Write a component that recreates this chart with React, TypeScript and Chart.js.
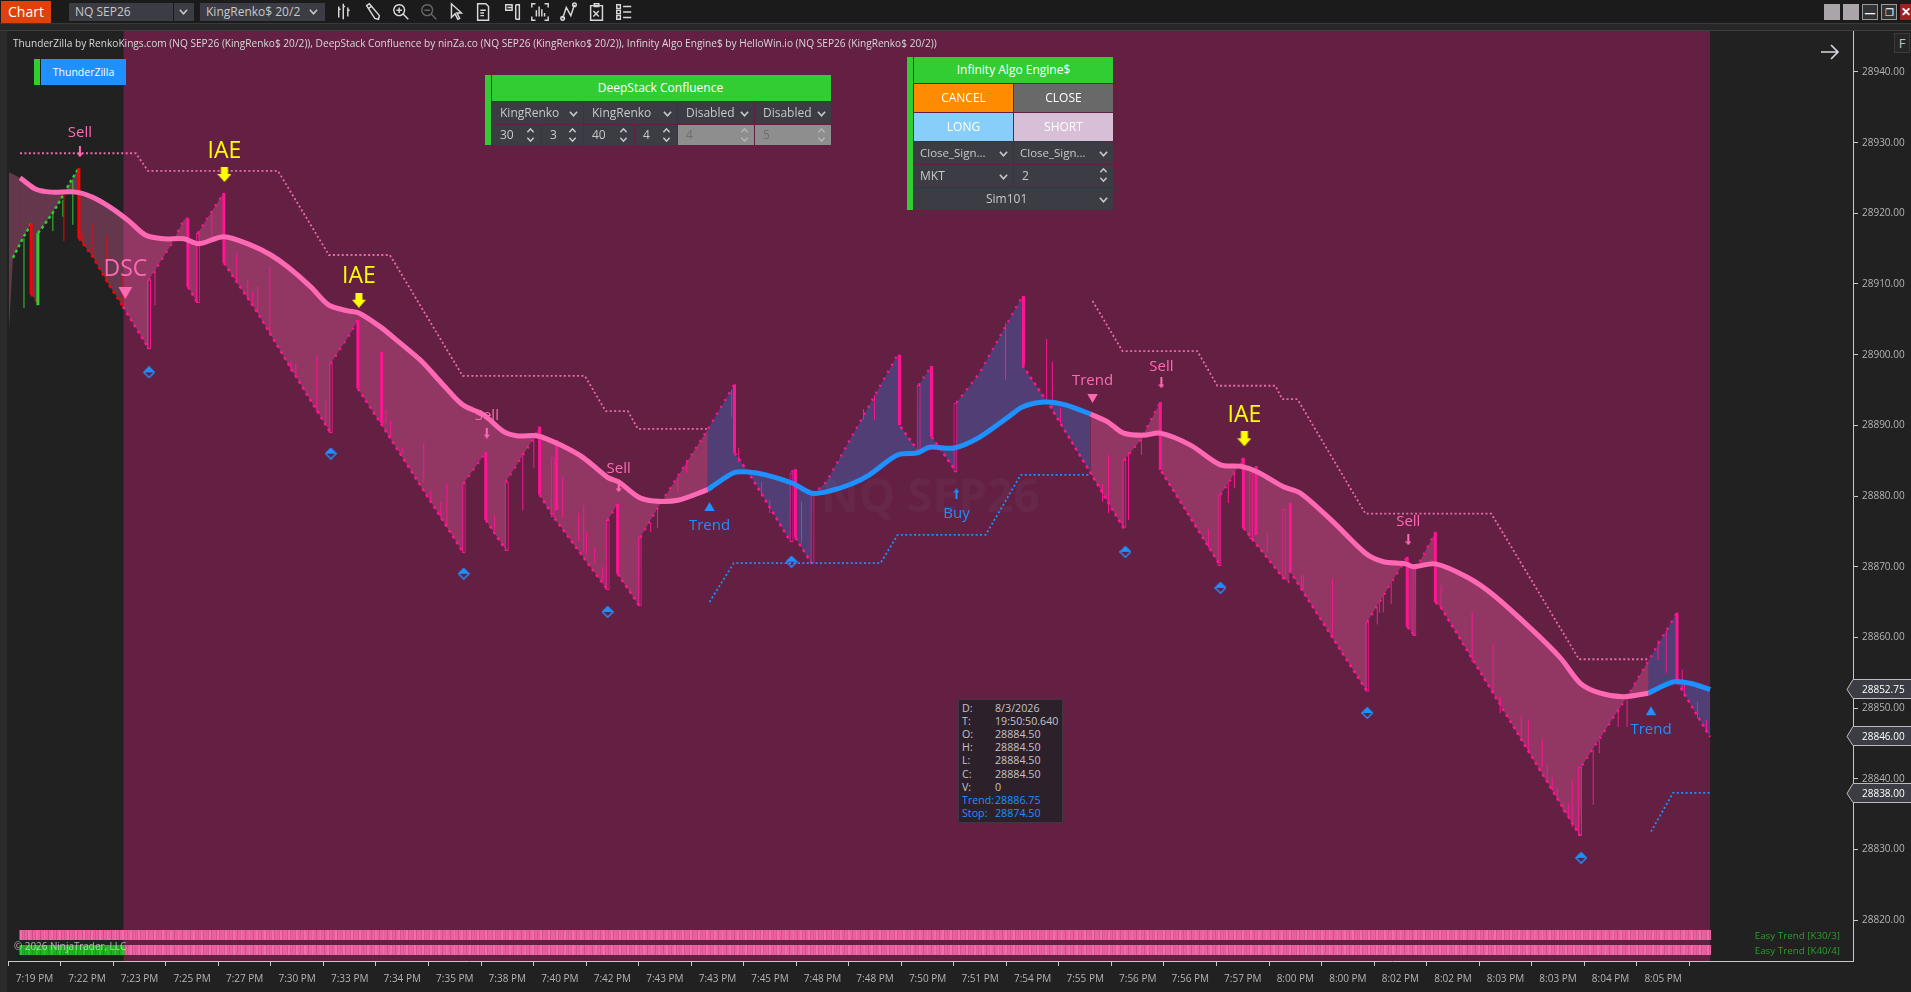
import React, { useEffect, useRef } from "react";
import { Chart, registerables } from "chart.js";

Chart.register(...registerables);

/* ---------- axis values ---------- */
const priceTicks = [28820, 28830, 28840, 28850, 28860, 28870, 28880, 28890, 28900, 28910, 28920, 28930, 28940];
const tickBars = [0, 20, 40, 60, 80, 100, 120, 140, 160, 180, 200, 220, 240, 260, 280, 300, 320, 340, 360, 380, 400, 420, 440, 460, 480, 500, 520, 540, 560, 580, 600, 620];
const tickLabels = ["7:19 PM", "7:22 PM", "7:23 PM", "7:25 PM", "7:27 PM", "7:30 PM", "7:33 PM", "7:34 PM", "7:35 PM", "7:38 PM", "7:40 PM", "7:42 PM", "7:43 PM", "7:43 PM", "7:45 PM", "7:48 PM", "7:48 PM", "7:50 PM", "7:51 PM", "7:54 PM", "7:55 PM", "7:56 PM", "7:56 PM", "7:57 PM", "8:00 PM", "8:00 PM", "8:02 PM", "8:02 PM", "8:03 PM", "8:03 PM", "8:04 PM", "8:05 PM"];
const axisRange = { xMin: -10.08, xMax: 692.3, yMin: 28814.2, yMax: 28945.8 };
const sessionStartBar = 33.9;
const lastBar = 637.9;
const priceMarkers = [28852.75, 28846.0, 28838.0];

/* ---------- trend line [bar, price] ---------- */
const trendPinkA: [number, number][] = [[-9.7, 28925.8], [-5.5, 28925.0], [0.6, 28923.4], [6.3, 28923.0], [15.8, 28923.0], [22.6, 28922.2], [30.3, 28920.5], [36, 28918.9], [42.4, 28916.9], [49.3, 28916.4], [56.9, 28916.4], [62.6, 28915.7], [72.1, 28916.7], [82.4, 28915.5], [90, 28914.1], [96.5, 28912.4], [105.2, 28909.6], [112.1, 28907.0], [119.3, 28906.2], [123.5, 28905.9], [131.8, 28903.9], [138.7, 28901.8], [147, 28899.2], [154.7, 28896.1], [163, 28892.9], [171, 28891.5], [178.6, 28889.1], [184, 28888.5], [191.6, 28888.5], [200.3, 28887.2], [209, 28885.4], [218.3, 28882.6], [222.4, 28882.0], [229.7, 28879.9], [235.8, 28879.3], [244.9, 28879.4], [256.3, 28880.9]];
const trendBlueA: [number, number][] = [[256.3, 28880.9], [266.2, 28883.3], [271.5, 28883.4], [278.4, 28883.0], [288.6, 28881.8], [295.9, 28880.4], [302.7, 28880.7], [311, 28881.7], [317.9, 28883.0], [328.5, 28885.8], [336.2, 28886.1], [340.7, 28886.9], [350.2, 28886.8], [359.7, 28888.3], [370.8, 28891.2], [376.1, 28892.6], [384.5, 28893.3], [392.5, 28892.9], [402, 28891.6]];
const trendPinkB: [number, number][] = [[402, 28891.6], [408.5, 28890.5], [414.6, 28888.9], [422.2, 28888.6], [428.7, 28888.9], [440.1, 28887.2], [451.5, 28884.4], [459.1, 28884.2], [465.6, 28883.4], [475.5, 28881.3], [482, 28880.4], [494.5, 28876.3], [506.7, 28871.9], [513.6, 28870.7], [521.9, 28870.4], [525, 28870.0], [533.4, 28870.4], [545.5, 28868.5], [555.4, 28866.0], [569.5, 28861.3], [580.9, 28857.1], [588.5, 28853.5], [596.1, 28852.1], [604.9, 28851.6], [614.4, 28852.1]];
const trendBlueB: [number, number][] = [[614.4, 28852.1], [623.9, 28853.7], [630.3, 28853.5], [637.2, 28852.7], [637.9, 28852.6]];

/* ---------- renko close path [bar, price] ---------- */
const closePath: [number, number][] = [[-9.7, 28903.5], [-8.2, 28913.7], [-4.4, 28916.5], [-1.3, 28918.5], [-1.3, 28908.6], [1, 28907.5], [1.3, 28917.2], [3.2, 28918.1], [7, 28920.1], [10.1, 28922.0], [13.9, 28924.6], [16.9, 28926.4], [16.9, 28916.5], [22.3, 28913.8], [28, 28910.1], [33.7, 28906.8], [43.6, 28900.8], [43.6, 28910.6], [51.9, 28915.5], [56.9, 28919.1], [58.4, 28919.3], [58.4, 28909.6], [62.2, 28907.3], [62.2, 28917.2], [67.2, 28920.1], [72.1, 28922.9], [72.1, 28913.0], [85, 28905.9], [98.7, 28897.4], [112.8, 28888.9], [112.8, 28898.8], [120.4, 28903.1], [123.1, 28904.9], [123.1, 28895.2], [131.8, 28890.3], [163.4, 28871.9], [163.4, 28881.8], [171.8, 28886.2], [171.8, 28876.6], [179.4, 28872.4], [179.4, 28882.0], [188.9, 28887.5], [192.3, 28889.8], [192.3, 28880.2], [197.7, 28877.0], [218.2, 28866.7], [218.2, 28876.6], [222, 28878.9], [222, 28869.0], [230.4, 28864.4], [230.7, 28874.2], [238.4, 28879.0], [256.6, 28889.6], [266.5, 28895.8], [266.5, 28886.1], [271.9, 28883.3], [287.9, 28873.5], [288.2, 28883.4], [289.7, 28883.8], [289.7, 28874.1], [295.8, 28870.5], [296.2, 28880.2], [301.5, 28882.0], [328.6, 28900.0], [329.7, 28889.8], [336.2, 28886.5], [336.6, 28895.7], [341.5, 28898.4], [341.5, 28888.4], [351, 28883.4], [351, 28893.2], [359.8, 28897.4], [376.1, 28908.3], [376.1, 28898.5], [386.8, 28892.6], [402, 28883.3], [414.9, 28875.3], [414.9, 28885.1], [421, 28887.9], [428.6, 28893.3], [429, 28883.5], [451.5, 28870.1], [451.5, 28880.2], [455.3, 28882.3], [460.2, 28885.4], [460.2, 28875.5], [463.6, 28873.9], [475.4, 28868.4], [477.7, 28867.8], [477.7, 28869.5], [507.4, 28852.3], [507.4, 28862.2], [522.6, 28871.4], [522.6, 28861.5], [525.6, 28860.2], [526, 28869.7], [533.3, 28874.9], [533.3, 28865.0], [535.5, 28864.2], [588.4, 28831.9], [589.2, 28841.9], [606.3, 28851.6], [625.3, 28863.5], [625.3, 28853.7], [637.9, 28845.9]];

/* ---------- wicks [bar, high, low] ---------- */
const thickPink: [number, number, number][] = [[58.4, 28919.3, 28909.6], [72.1, 28922.9, 28913.0], [123.1, 28904.9, 28895.2], [132.2, 28900.4, 28890.3], [171.8, 28886.2, 28876.6], [192.3, 28889.8, 28880.2], [198.8, 28887.9, 28878.0], [222, 28878.9, 28869.0], [266.5, 28895.8, 28886.1], [289.7, 28883.8, 28874.1], [329.3, 28900.0, 28890.05], [341.5, 28898.4, 28888.4], [376.5, 28908.3, 28898.5], [428.6, 28893.3, 28883.7], [460.2, 28885.4, 28875.5], [465.1, 28884.25, 28874.5], [478.1, 28879.0, 28869.5], [522.6, 28871.4, 28861.5], [533.3, 28874.9, 28865.0], [625.3, 28863.5, 28853.7]];
const hollowPink: [number, number, number][] = [[43.6, 28910.6, 28900.8], [62.2, 28917.2, 28907.3], [112.8, 28898.8, 28888.9], [163.4, 28881.8, 28871.9], [179.8, 28882.0, 28872.2], [197.3, 28885.5, 28877.0], [218.2, 28876.6, 28866.7], [230.4, 28874.2, 28864.4], [288.2, 28883.3, 28873.5], [296.2, 28880.2, 28870.5], [336.6, 28895.7, 28886.2], [350.6, 28893.2, 28883.4], [414.9, 28885.1, 28875.5], [451.1, 28880.2, 28870.1], [463.2, 28883.3, 28873.9], [475.8, 28878.2, 28868.4], [507.4, 28862.2, 28852.3], [525.3, 28869.7, 28860.2], [588.4, 28841.7, 28831.9]];
const thinPink: [number, number, number][] = [[45.9, 28912.0, 28907.0], [67.5, 28920.1, 28916.7], [77, 28914.3, 28910.3], [81.2, 28910.6, 28907.8], [83.1, 28908.9, 28907.0], [85, 28909.7, 28905.9], [89.6, 28912.5, 28902.8], [97.6, 28899.0, 28897.6], [99.5, 28898.8, 28896.8], [107.5, 28899.8, 28891.8], [110.9, 28893.7, 28890.3], [133.8, 28892.2, 28890.3], [135.6, 28890.6, 28888.4], [140.2, 28886.9, 28886.1], [148.2, 28887.5, 28881.9], [150.9, 28880.8, 28879.2], [154.7, 28879.2, 28877.0], [157, 28881.7, 28875.6], [175.2, 28877.3, 28875.2], [185.9, 28886.2, 28878.0], [190.1, 28888.4, 28884.0], [201.1, 28882.7, 28876.9], [207.2, 28877.6, 28873.5], [209.1, 28878.7, 28872.1], [210.2, 28874.9, 28871.7], [213.3, 28872.8, 28870.5], [216.3, 28870.0, 28868.1], [234.6, 28876.2, 28874.9], [237.2, 28878.0, 28875.5], [244.9, 28882.7, 28880.6], [248.3, 28885.1, 28883.3], [265.4, 28895.0, 28891.2], [268.1, 28886.8, 28884.8], [276.8, 28882.0, 28880.2], [279.9, 28879.4, 28877.6], [292, 28879.2, 28873.4], [315.6, 28892.3, 28890.8], [319.8, 28894.3, 28890.8], [369.7, 28904.5, 28896.4], [385.3, 28902.2, 28893.6], [387.5, 28899.0, 28892.5], [390.6, 28892.5, 28890.3], [406.6, 28881.7, 28879.2], [408.9, 28885.8, 28877.6], [416.5, 28886.2, 28876.6], [421.4, 28888.2, 28885.8], [446.9, 28875.3, 28872.6], [454.5, 28882.0, 28879.0], [456.8, 28883.5, 28881.1], [469.3, 28874.8, 28872.1], [482.3, 28868.8, 28867.0], [483, 28868.8, 28866.7], [494.1, 28868.3, 28859.9], [511.2, 28864.3, 28861.8], [512, 28865.0, 28863.5], [513.5, 28866.0, 28863.5], [516.5, 28867.7, 28864.7], [535.5, 28867.4, 28863.9], [547.3, 28863.5, 28856.5], [555.3, 28859.1, 28852.1], [558, 28851.6, 28849.3], [566, 28849.0, 28845.9], [568.7, 28848.3, 28843.6], [574, 28845.5, 28841.7], [575.9, 28841.9, 28839.8], [577.8, 28840.2, 28838.4], [579.7, 28838.7, 28837.3], [582, 28836.6, 28835.3], [583.9, 28836.6, 28834.5], [585.4, 28839.8, 28833.2], [593.4, 28844.1, 28836.3], [595.7, 28845.5, 28843.6], [602.9, 28850.0, 28847.3], [606.3, 28851.9, 28847.3], [618.1, 28859.6, 28856.8], [621.2, 28861.0, 28855.0], [627.3, 28855.4, 28852.6], [628.1, 28853.3, 28851.6], [633.1, 28850.9, 28848.6], [636.5, 28848.3, 28846.5]];
const thickRed: [number, number, number][] = [[16.9, 28926.4, 28916.5], [-1.3, 28918.5, 28908.6]];
const thinRed: [number, number, number][] = [[11.2, 28922.9, 28916.1], [18.5, 28917.4, 28915.5], [22.3, 28918.5, 28913.8], [27.6, 28916.8, 28910.1], [33.7, 28911.3, 28906.8]];
const thickGreen: [number, number, number][] = [[1.3, 28917.2, 28907.0]];
const thinGreen: [number, number, number][] = [[-4, 28916.5, 28906.6], [7, 28920.1, 28917.5], [10.8, 28921.9, 28919.5], [14.6, 28924.7, 28918.4]];

/* ---------- stop lines [bar, price] ---------- */
const stopPinkA: [number, number][] = [[-5.5, 28928.5], [38.6, 28928.5], [43.2, 28926.0], [92.7, 28926.0], [112.1, 28914.1], [135.3, 28914.1], [163, 28897.0], [209.5, 28897.0], [217.5, 28892.0], [225.9, 28892.0], [229.7, 28889.5], [256.7, 28889.5]];
const stopPinkB: [number, number][] = [[402.8, 28907.6], [414.2, 28900.5], [442.7, 28900.5], [450.3, 28895.6], [472.4, 28895.6], [475, 28893.7], [480.8, 28893.7], [506.7, 28877.5], [554.6, 28877.5], [588, 28856.9], [614.4, 28856.9]];
const stopBlueA: [number, number][] = [[257, 28865.0], [266.2, 28870.5], [322.1, 28870.5], [328.6, 28874.5], [362.1, 28874.5], [375.5, 28883.0], [402, 28883.0]];
const stopBlueB: [number, number][] = [[615.4, 28832.5], [623.8, 28838.0], [637.9, 28838.0]];

/* ---------- markers ---------- */
const diamonds: [number, number][] = [[43.6, 28897.5], [112.8, 28886.0], [163.4, 28869.0], [218.2, 28863.6], [288.2, 28870.7], [415.3, 28872.1], [451.5, 28867.0], [507.4, 28849.3], [588.8, 28828.8]];
const yellowArrows: [number, number][] = [[72.3, 28925.5], [123.5, 28907.7], [460.6, 28888.1]];
const pinkArrows: [number, number][] = [[17.3, 28928.7], [172.2, 28888.9], [222.4, 28881.3], [429, 28896.0], [523, 28873.8]];
const blueArrows: [number, number][] = [[351, 28880.3]];
const pinkTriBig: [number, number][] = [[34.6, 28909.0]];
const pinkTri: [number, number][] = [[402.8, 28894.0]];
const blueTri: [number, number][] = [[257, 28878.3], [615.4, 28849.4]];
const markerTexts: { bar: number; price: number; text: string; color: string; size: number }[] = [
  { bar: 17.3, price: 28931.5, text: "Sell", color: "#FF69B4", size: 15 },
  { bar: 72.3, price: 28929.0, text: "IAE", color: "#FFFF00", size: 23 },
  { bar: 34.6, price: 28912.3, text: "DSC", color: "#FF69B4", size: 23 },
  { bar: 123.5, price: 28911.4, text: "IAE", color: "#FFFF00", size: 23 },
  { bar: 172.2, price: 28891.5, text: "Sell", color: "#FF69B4", size: 15 },
  { bar: 222.4, price: 28884.0, text: "Sell", color: "#FF69B4", size: 15 },
  { bar: 257, price: 28875.9, text: "Trend", color: "#1E90FF", size: 15 },
  { bar: 351, price: 28877.7, text: "Buy", color: "#1E90FF", size: 15 },
  { bar: 402.8, price: 28896.4, text: "Trend", color: "#FF69B4", size: 15 },
  { bar: 429, price: 28898.5, text: "Sell", color: "#FF69B4", size: 15 },
  { bar: 460.6, price: 28891.75, text: "IAE", color: "#FFFF00", size: 23 },
  { bar: 523, price: 28876.5, text: "Sell", color: "#FF69B4", size: 15 },
  { bar: 615.4, price: 28847.0, text: "Trend", color: "#1E90FF", size: 15 },
];

/* ---------- text content ---------- */
const instrument = "NQ SEP26";
const barType = "KingRenko$ 20/2";
const titleLine = "ThunderZilla by RenkoKings.com (NQ SEP26 (KingRenko$ 20/2)), DeepStack Confluence by ninZa.co (NQ SEP26 (KingRenko$ 20/2)), Infinity Algo Engine$ by HelloWin.io (NQ SEP26 (KingRenko$ 20/2))";
const strips = ["Easy Trend [K30/3]", "Easy Trend [K40/4]"];
const copyright = "© 2026 NinjaTrader, LLC";
const infoLabels = ["D:", "T:", "O:", "H:", "L:", "C:", "V:", "Trend:", "Stop:"];
const infoValues = ["8/3/2026", "19:50:50.640", "28884.50", "28884.50", "28884.50", "28884.50", "0", "28886.75", "28874.50"];

const FONT = '"Open Sans", "Noto Sans", sans-serif';
const PINK = "#FF69B4";
const BLUE = "#1E90FF";
const DEEP = "#FF1493";
const RED = "#FF0000";
const GREEN = "#32CD32";

const pts = (a: [number, number][]) => a.map(([x, y]) => ({ x, y }));
const wick = (a: [number, number, number][]) => a.map(([x, h, l]) => ({ x, y: [l, h] }));

function arrowImage(color: string, w: number, h: number, up: boolean, shaft: number, head: number) {
  const c = document.createElement("canvas");
  c.width = w;
  c.height = h;
  const g = c.getContext("2d")!;
  if (up) {
    g.translate(0, h);
    g.scale(1, -1);
  }
  g.fillStyle = color;
  g.beginPath();
  g.moveTo((w - shaft) / 2, 0);
  g.lineTo((w + shaft) / 2, 0);
  g.lineTo((w + shaft) / 2, h - head);
  g.lineTo(w, h - head);
  g.lineTo(w / 2, h);
  g.lineTo(0, h - head);
  g.lineTo((w - shaft) / 2, h - head);
  g.closePath();
  g.fill();
  return c;
}

function diamondImage() {
  const c = document.createElement("canvas");
  c.width = 12;
  c.height = 12;
  const g = c.getContext("2d")!;
  g.strokeStyle = BLUE;
  g.lineWidth = 1.5;
  g.fillStyle = BLUE;
  g.beginPath();
  g.moveTo(6, 0.8);
  g.lineTo(11.2, 6);
  g.lineTo(0.8, 6);
  g.closePath();
  g.fill();
  g.beginPath();
  g.moveTo(6, 0.8);
  g.lineTo(11.2, 6);
  g.lineTo(6, 11.2);
  g.lineTo(0.8, 6);
  g.closePath();
  g.stroke();
  return c;
}

const scenePlugin = {
  id: "scene",
  beforeDatasetsDraw(chart: any) {
    const { ctx, chartArea: a, scales } = chart;
    const x0 = scales.x.getPixelForValue(sessionStartBar);
    const x1 = scales.x.getPixelForValue(lastBar);
    ctx.save();
    ctx.fillStyle = "#632043";
    ctx.fillRect(x0, a.top, x1 - x0, a.bottom - a.top);
    ctx.fillStyle = "rgba(255,255,255,0.03)";
    ctx.font = `bold 46px ${FONT}`;
    ctx.textAlign = "center";
    ctx.textBaseline = "middle";
    ctx.fillText(instrument, (a.left + a.right) / 2, (a.top + a.bottom) / 2 + 3);
    ctx.restore();
  },
  afterDatasetsDraw(chart: any) {
    const { ctx, scales } = chart;
    const sx = scales.x;
    const sy = scales.y;
    ctx.save();
    ctx.textAlign = "center";
    ctx.textBaseline = "middle";
    for (const m of markerTexts) {
      ctx.fillStyle = m.color;
      ctx.font = `${m.size}px ${FONT}`;
      ctx.fillText(m.text, sx.getPixelForValue(m.bar), sy.getPixelForValue(m.price) + (m.size > 20 ? 2 : 1));
    }
    // bottom trend strips
    const left = sx.getPixelForValue(-5.7);
    const right = sx.getPixelForValue(lastBar) + 1;
    const split = sx.getPixelForValue(sessionStartBar);
    [930, 945].forEach((top, row) => {
      for (let px = left, i = 0; px < right; px += 2.628, i++) {
        const green = row === 1 && px < split;
        const lite = i % 3 === 0;
        ctx.fillStyle = green ? (lite ? "#2CC42C" : "#22B022") : lite ? "#F56CAB" : "#EE5FA0";
        ctx.fillRect(px, top, Math.min(2.7, right - px), 10);
      }
      ctx.fillStyle = "#2E9B2E";
      ctx.font = `9.8px ${FONT}`;
      ctx.textAlign = "right";
      ctx.fillText(strips[row], 1840, top + 6.5);
    });
    ctx.textAlign = "left";
    ctx.fillStyle = "rgba(225,225,225,0.72)";
    ctx.font = `9.9px ${FONT}`;
    ctx.fillText(copyright, 14, 947);
    ctx.restore();
  },
  afterDraw(chart: any) {
    const { ctx, scales } = chart;
    ctx.save();
    ctx.textAlign = "left";
    ctx.textBaseline = "middle";
    for (const p of priceMarkers) {
      const y = Math.round(scales.y.getPixelForValue(p));
      ctx.fillStyle = "#3C3D44";
      ctx.strokeStyle = "#BDBDBD";
      ctx.lineWidth = 1;
      ctx.beginPath();
      ctx.moveTo(1847, y + 0.5);
      ctx.lineTo(1853, y - 9.5);
      ctx.lineTo(1912, y - 9.5);
      ctx.lineTo(1912, y + 9.5);
      ctx.lineTo(1853, y + 9.5);
      ctx.closePath();
      ctx.fill();
      ctx.stroke();
      ctx.fillStyle = "#FFFFFF";
      ctx.font = `10px ${FONT}`;
      ctx.fillText(p.toFixed(2), 1862, y + 1);
    }
    ctx.restore();
  },
};

const Chevron = ({ x, y, color = "#c8c8c8", s = 9 }: any) => (
  <svg style={{ position: "absolute", left: x, top: y }} width={s} height={s} viewBox="0 0 10 10">
    <path d="M1 3 L5 7.5 L9 3" stroke={color} strokeWidth="1.8" fill="none" />
  </svg>
);
const Spin = ({ x, y, color = "#c8c8c8" }: any) => (
  <svg style={{ position: "absolute", left: x, top: y }} width={9} height={16} viewBox="0 0 10 18">
    <path d="M1.5 6 L5 2 L8.5 6 M1.5 12 L5 16 L8.5 12" stroke={color} strokeWidth="1.7" fill="none" />
  </svg>
);
const Box = ({ x, y, w, h, bg, color = "#c8c8c8", size = 12, align = "left", pad = 5, children, weight, border }: any) => (
  <div
    style={{
      position: "absolute",
      left: x,
      top: y,
      width: w,
      height: h,
      background: bg,
      color,
      fontSize: size,
      fontWeight: weight,
      lineHeight: `${border ? h - 2 : h}px`,
      textAlign: align,
      paddingLeft: align === "left" ? pad : 0,
      boxSizing: "border-box",
      whiteSpace: "nowrap",
      overflow: "hidden",
      border,
    }}
  >
    {children}
  </div>
);
const CELL = "#3C3D44";

const toolIcons: string[] = [
  "M3 5v12M8 2v17M13 6v10M3 8h2M8 5h2M13 9h2",
  "M4 4l3-2 11 13-1 4-4-1zM6 7l3-2",
  "M9 3a6 6 0 1 0 .01 0M6 9h6M9 6v6M13 13l6 6",
  "M9 3a6 6 0 1 0 .01 0M6 9h6M13 13l6 6",
  "M6 2l0 15 4-4 3 6 2-1-3-6 5 0z",
  "M4 2h9l3 3v15H4zM7 9h6M7 12h4M7 15h4",
  "M3 3h7v6H3zM5 6h5M14 3h4v16h-4M14 3v16",
  "M2 6V2h4M16 2h4v4M2 16v4h4M16 20h4v-4M7 16V9M10 16V5M13 16V8M16 16v-4",
  "M4 18L8 6l5 9L17 3M4 18m-2 0a2 2 0 1 0 4 0a2 2 0 1 0-4 0M17 3m-2 0a2 2 0 1 0 4 0a2 2 0 1 0-4 0",
  "M4 4h13v16H4zM8 2h5v3H8zM7 10l6 6M13 10l-6 6",
  "M3 3h4v4H3zM3 9h4v4H3zM3 15h4v4H3zM10 5h9M10 11h9M10 17h9",
];
const toolX = [336, 363, 391, 419, 446, 474, 503, 530, 559, 587, 614];

export default function App() {
  const ref = useRef<HTMLCanvasElement>(null);

  useEffect(() => {
    const trendPinkData = [...pts(trendPinkA), { x: 300, y: null }, ...pts(trendPinkB)];
    const trendBlueData = [...pts(trendBlueA), { x: 500, y: null }, ...pts(trendBlueB)];
    const stopPinkData = [...pts(stopPinkA), { x: 300, y: null }, ...pts(stopPinkB)];
    const stopBlueData = [...pts(stopBlueA), { x: 500, y: null }, ...pts(stopBlueB)];
    const line = { pointRadius: 0, tension: 0, spanGaps: false };
    const wickBase = { type: "bar", grouped: false, inflateAmount: 0, order: 3, borderWidth: 0, borderSkipped: false };
    const marker = (data: [number, number][], pointStyle: any, extra: any = {}) => ({
      type: "line",
      data: pts(data),
      showLine: false,
      pointStyle,
      pointRadius: 6,
      order: 0,
      ...extra,
    });
    const chart = new Chart(ref.current!, {
      type: "line",
      plugins: [scenePlugin],
      data: {
        datasets: [
          {
            data: trendPinkData,
            ...line,
            tension: 0.3,
            borderColor: PINK,
            borderWidth: 5,
            borderJoinStyle: "round",
            order: 1,
            segment: { borderColor: (c: any) => (c.p1.parsed.x < -5 ? "transparent" : undefined) },
          },
          { data: trendBlueData, ...line, tension: 0.3, borderColor: BLUE, borderWidth: 5, borderJoinStyle: "round", order: 1 },
          {
            data: pts(closePath),
            ...line,
            borderWidth: 0,
            borderColor: "transparent",
            order: 7,
            fill: { target: 0, above: "rgba(255,105,180,0.3)", below: "rgba(255,105,180,0.3)" },
          },
          {
            data: pts(closePath),
            ...line,
            borderWidth: 0,
            borderColor: "transparent",
            order: 7,
            fill: { target: 1, above: "rgba(30,144,255,0.27)", below: "rgba(30,144,255,0.27)" },
          },
          {
            data: pts(closePath),
            ...line,
            borderWidth: 2.5,
            borderColor: DEEP,
            order: 4,
            segment: {
              borderColor: (c: any) => {
                const a = c.p0.parsed;
                const b = c.p1.parsed;
                if (b.x === a.x || Math.abs(b.y - a.y) / (b.x - a.x) > 5) return "transparent";
                if (b.x < sessionStartBar + 0.1) return b.y > a.y ? GREEN : RED;
                return DEEP;
              },
              borderDash: (c: any) => (c.p1.parsed.y > c.p0.parsed.y ? (c.p1.parsed.x < sessionStartBar ? [3, 3] : [2, 6]) : [3, 4]),
            },
          },
          { ...wickBase, data: wick(thinPink), backgroundColor: DEEP, barThickness: 1 },
          { ...wickBase, data: wick(hollowPink), backgroundColor: "transparent", borderColor: DEEP, borderWidth: 1, barThickness: 4 },
          { ...wickBase, data: wick(thickPink), backgroundColor: DEEP, barThickness: 3 },
          { ...wickBase, data: wick(thinRed), backgroundColor: RED, barThickness: 1 },
          { ...wickBase, data: wick(thickRed), backgroundColor: RED, barThickness: 3 },
          { ...wickBase, data: wick(thinGreen), backgroundColor: GREEN, barThickness: 1 },
          { ...wickBase, data: wick(thickGreen), backgroundColor: GREEN, barThickness: 3 },
          { data: stopPinkData, ...line, borderColor: "#E86BA8", borderWidth: 1.8, borderDash: [2, 2.4], order: 2 },
          { data: stopBlueData, ...line, borderColor: BLUE, borderWidth: 1.8, borderDash: [2, 2.4], order: 2 },
          marker(diamonds, diamondImage()),
          marker(yellowArrows, arrowImage("#FFFF00", 14, 15, false, 7, 8)),
          marker(pinkArrows, arrowImage(PINK, 6, 11, false, 2, 4)),
          marker(blueArrows, arrowImage(BLUE, 6, 11, true, 2, 4)),
          marker(pinkTriBig, "triangle", { pointRadius: 8, pointRotation: 180, backgroundColor: PINK, borderWidth: 0 }),
          marker(pinkTri, "triangle", { pointRadius: 6, pointRotation: 180, backgroundColor: PINK, borderWidth: 0 }),
          marker(blueTri, "triangle", { pointRadius: 6, backgroundColor: BLUE, borderWidth: 0 }),
        ] as any,
      },
      options: {
        animation: false,
        responsive: false,
        events: [],
        layout: { padding: { left: 7, top: 31, right: 0, bottom: 0 } },
        plugins: { legend: { display: false }, tooltip: { enabled: false }, title: { display: false } },
        scales: {
          x: {
            type: "linear",
            min: axisRange.xMin,
            max: axisRange.xMax,
            offset: false,
            afterBuildTicks: (s: any) => {
              s.ticks = tickBars.map((value) => ({ value }));
            },
            afterFit: (s: any) => {
              s.height = 31;
            },
            border: { color: "#C8C8C8", width: 1 },
            grid: { drawOnChartArea: false, drawTicks: true, tickLength: 5, tickColor: "#C8C8C8" },
            ticks: {
              autoSkip: false,
              maxRotation: 0,
              minRotation: 0,
              padding: 7,
              color: "#B4B4B4",
              font: { family: FONT, size: 10 },
              callback: (_v: any, i: number) => tickLabels[i],
            },
          },
          y: {
            type: "linear",
            position: "right",
            min: axisRange.yMin,
            max: axisRange.yMax,
            afterBuildTicks: (s: any) => {
              s.ticks = priceTicks.map((value) => ({ value }));
            },
            afterFit: (s: any) => {
              s.width = 58;
            },
            border: { color: "#C8C8C8", width: 1 },
            grid: { drawOnChartArea: false, drawTicks: true, tickLength: 5, tickColor: "#C8C8C8" },
            ticks: {
              padding: 4,
              color: "#B4B4B4",
              font: { family: FONT, size: 10 },
              callback: (v: any) => Number(v).toFixed(2),
            },
          },
        },
      } as any,
    });
    return () => chart.destroy();
  }, []);

  return (
    <div style={{ position: "fixed", left: 0, top: 0, width: 1911, height: 992, background: "#212121", overflow: "hidden", fontFamily: FONT }}>
      <canvas ref={ref} width={1911} height={992} style={{ position: "absolute", left: 0, top: 0, width: 1911, height: 992 }} />

      {/* window furniture */}
      <div style={{ position: "absolute", left: 0, top: 0, width: 1911, height: 23, background: "#1B1B1B" }} />
      <div style={{ position: "absolute", left: 0, top: 23, width: 1911, height: 1, background: "#3A3A3A" }} />
      <div style={{ position: "absolute", left: 0, top: 24, width: 1911, height: 6, background: "#272727" }} />
      <div style={{ position: "absolute", left: 0, top: 30, width: 1911, height: 1, background: "#3F3F3F" }} />
      <div style={{ position: "absolute", left: 0, top: 31, width: 7, height: 961, background: "#2B2B2B" }} />
      <Box x={1} y={1} w={50} h={22} bg="#E0400A" color="#fff" size={14} align="center">Chart</Box>
      <Box x={69} y={3} w={104} h={18} bg={CELL} size={12} pad={6}>{instrument}</Box>
      <Box x={174} y={3} w={20} h={18} bg={CELL}> </Box>
      <Chevron x={179} y={7} />
      <Box x={200} y={3} w={125} h={18} bg={CELL} size={12} pad={6}>{barType}</Box>
      <Chevron x={309} y={7} />
      {toolIcons.map((d, i) => (
        <svg key={i} style={{ position: "absolute", left: toolX[i], top: 2 }} width={20} height={20} viewBox="0 0 22 22">
          <path d={d} stroke={i === 3 ? "#666" : "#D8D8D8"} strokeWidth="1.6" fill="none" />
        </svg>
      ))}
      {[1824, 1843].map((x) => (
        <div key={x} style={{ position: "absolute", left: x, top: 4, width: 16, height: 16, background: "#AAA5A8" }} />
      ))}
      <Box x={1862} y={4} w={16} h={16} bg="#333" color="#fff" align="center" size={11} border="1px solid #9A9A9A" weight={700}>—</Box>
      <Box x={1881} y={4} w={16} h={16} bg="#333" color="#fff" align="center" size={10} border="1px solid #9A9A9A">❐</Box>
      <Box x={1900} y={4} w={11} h={16} bg="#A02020" color="#fff" align="left" pad={1} size={12} weight={700}>✕</Box>

      <div style={{ position: "absolute", left: 13, top: 35, fontSize: 10.14, color: "#D8D8D8", whiteSpace: "nowrap", lineHeight: "16px" }}>{titleLine}</div>

      {/* ThunderZilla */}
      <div style={{ position: "absolute", left: 34, top: 59, width: 6, height: 26, background: GREEN }} />
      <Box x={41} y={59} w={85} h={26} bg={BLUE} color="#fff" size={10.5} align="center">ThunderZilla</Box>

      {/* DeepStack */}
      <div style={{ position: "absolute", left: 485, top: 75, width: 6, height: 70, background: GREEN }} />
      <Box x={492} y={75} w={337} h={26} bg={GREEN} color="#fff" size={12} align="center">DeepStack Confluence</Box>
      <div style={{ position: "absolute", left: 829, top: 75, width: 2, height: 26, background: GREEN }} />
      {[[492, 91, "KingRenko"], [584, 93, "KingRenko"], [678, 76, "Disabled"], [755, 76, "Disabled"]].map(([x, w, t]: any) => (
        <React.Fragment key={x}>
          <Box x={x} y={102} w={w} h={22} bg={CELL} pad={8}>{t}</Box>
          <Chevron x={x + w - 14} y={109} />
        </React.Fragment>
      ))}
      {[[492, 49, "30"], [542, 41, "3"], [584, 50, "40"], [635, 42, "4"]].map(([x, w, t]: any) => (
        <React.Fragment key={x}>
          <Box x={x} y={125} w={w} h={20} bg={CELL} pad={8}>{t}</Box>
          <Spin x={x + w - 15} y={127} />
        </React.Fragment>
      ))}
      {[[678, 76, "4"], [755, 76, "5"]].map(([x, w, t]: any) => (
        <React.Fragment key={x}>
          <Box x={x} y={125} w={w} h={20} bg="#8E8E8E" color="#6E6E6E" pad={8}>{t}</Box>
          <Spin x={x + w - 14} y={127} color="#B5B5B5" />
        </React.Fragment>
      ))}

      {/* Infinity */}
      <div style={{ position: "absolute", left: 907, top: 57, width: 6, height: 153, background: GREEN }} />
      <Box x={914} y={57} w={199} h={26} bg={GREEN} color="#fff" size={12} align="center">Infinity Algo Engine$</Box>
      <Box x={914} y={84} w={99} h={28} bg="#FF8C00" color="#fff" size={12} align="center">CANCEL</Box>
      <Box x={1014} y={84} w={99} h={28} bg="#696969" color="#fff" size={12} align="center">CLOSE</Box>
      <Box x={914} y={113} w={99} h={28} bg="#87CEFA" color="#fff" size={12} align="center">LONG</Box>
      <Box x={1014} y={113} w={99} h={28} bg="#D8BFD8" color="#fff" size={12} align="center">SHORT</Box>
      <Box x={914} y={142} w={99} h={22} bg={CELL} pad={6} size={11.5}>Close_Sign...</Box>
      <Chevron x={999} y={149} />
      <Box x={1014} y={142} w={99} h={22} bg={CELL} pad={6} size={11.5}>Close_Sign...</Box>
      <Chevron x={1099} y={149} />
      <Box x={914} y={165} w={99} h={22} bg={CELL} pad={6}>MKT</Box>
      <Chevron x={999} y={172} />
      <Box x={1014} y={165} w={99} h={22} bg={CELL} pad={8}>2</Box>
      <Spin x={1099} y={167} />
      <Box x={914} y={188} w={199} h={22} bg={CELL} pad={72}>Sim101</Box>
      <Chevron x={1099} y={195} />

      {/* data box */}
      <div style={{ position: "absolute", left: 958, top: 699, width: 105, height: 124, background: "#2C202B", border: "1px solid #3E3840", boxSizing: "border-box" }} />
      {infoLabels.map((t, i) => (
        <React.Fragment key={t}>
          <div style={{ position: "absolute", left: 962, top: 702 + i * 13.1, fontSize: 10.7, lineHeight: "13px", color: i > 6 ? BLUE : "#C4C4C4" }}>{t}</div>
          <div style={{ position: "absolute", left: 995, top: 702 + i * 13.1, fontSize: 10.7, lineHeight: "13px", color: i > 6 ? BLUE : "#C4C4C4" }}>{infoValues[i]}</div>
        </React.Fragment>
      ))}

      {/* right arrow + F */}
      <svg style={{ position: "absolute", left: 1820, top: 43 }} width={20} height={18} viewBox="0 0 20 18">
        <path d="M1 9 H18 M11 2 L18 9 L11 16" stroke="#D8D8E4" strokeWidth="1.6" fill="none" />
      </svg>
      <Box x={1894} y={33} w={16} h={20} bg="#262626" color="#C0C0C0" size={13} align="center" border="1px solid #3A3A3A">F</Box>
    </div>
  );
}
